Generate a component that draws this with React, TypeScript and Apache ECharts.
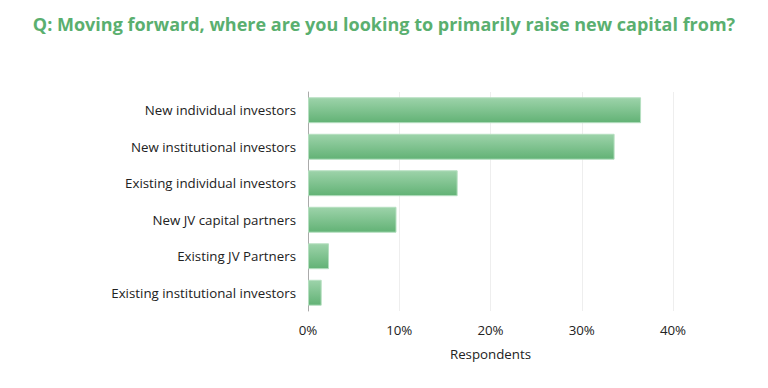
import React, { useEffect, useRef } from "react";
import * as echarts from "echarts";

const categories = [
  "New individual investors",
  "New institutional investors",
  "Existing individual investors",
  "New JV capital partners",
  "Existing JV Partners",
  "Existing institutional investors",
];
const values = [36.5, 33.6, 16.4, 9.7, 2.3, 1.5];
const xTicks = [0, 10, 20, 30, 40];

const FONT = "'Open Sans'";

export default function App() {
  const ref = useRef<HTMLDivElement>(null);
  useEffect(() => {
    const chart = echarts.init(ref.current!, null, { renderer: "svg" });
    chart.setOption({
      animation: false,
      title: {
        text: "Q: Moving forward, where are you looking to primarily raise new capital from?",
        left: "center",
        top: 2,
        textStyle: {
          color: "#5aaf6f",
          fontSize: 18,
          fontWeight: "bold",
          fontFamily: FONT,
        },
      },
      grid: { left: 300, right: 87, top: 84, bottom: 69, containLabel: false },
      xAxis: {
        type: "value",
        min: xTicks[0],
        max: xTicks[xTicks.length - 1],
        interval: 10,
        name: "Respondents",
        nameLocation: "middle",
        nameGap: 36,
        nameTextStyle: { color: "#222", fontSize: 13.3, fontFamily: FONT },
        axisLine: { show: false },
        axisTick: { show: false },
        axisLabel: {
          formatter: (v: number) => `${v}%`,
          color: "#222",
          fontSize: 13.3,
          fontFamily: FONT,
          margin: 12,
        },
        splitLine: { show: true, lineStyle: { color: "#eeeeee", width: 1 } },
      },
      yAxis: {
        type: "category",
        data: categories,
        inverse: true,
        axisLine: { show: true, lineStyle: { color: "#aaaaaa", width: 1 } },
        axisTick: { show: false },
        axisLabel: {
          color: "#222",
          fontSize: 13.3,
          fontFamily: FONT,
          margin: 12,
        },
      },
      series: [
        {
          type: "bar",
          data: values,
          barWidth: "71%",
          itemStyle: {
            color: new echarts.graphic.LinearGradient(0, 0, 0, 1, [
              { offset: 0, color: "#9dd3aa" },
              { offset: 1, color: "#62b275" },
            ]),
            borderColor: "#b5dfc0",
            borderWidth: 1,
          },
        },
      ],
    });
    return () => chart.dispose();
  }, []);
  return <div ref={ref} style={{ width: 752, height: 372 }} />;
}
